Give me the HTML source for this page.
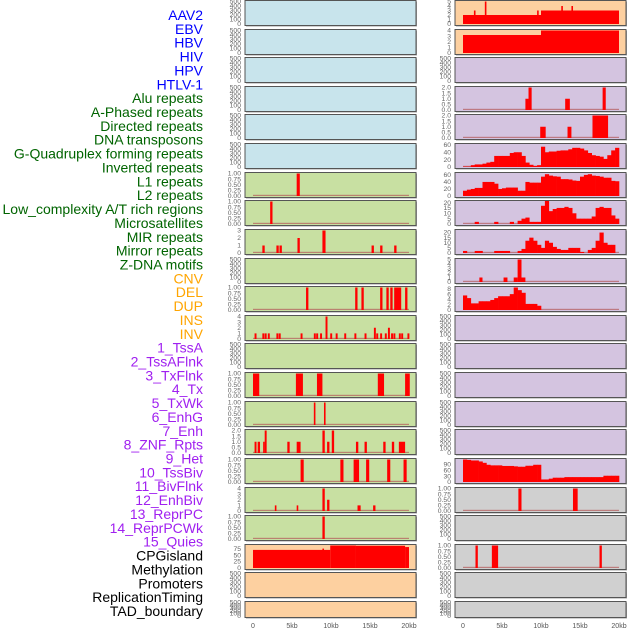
<!DOCTYPE html>
<html><head><meta charset="utf-8">
<style>
html,body{margin:0;padding:0;background:#fff;}
svg{display:block;}
</style></head>
<body>
<svg id="chart" width="630" height="630" viewBox="0 0 630 630" xmlns="http://www.w3.org/2000/svg"></svg>
<script>
// ---------- data ----------
const LABELS = ["AAV2","EBV","HBV","HIV","HPV","HTLV-1","Alu repeats","A-Phased repeats","Directed repeats","DNA transposons","G-Quadruplex forming repeats","Inverted repeats","L1 repeats","L2 repeats","Low_complexity A/T rich regions","Microsatellites","MIR repeats","Mirror repeats","Z-DNA motifs","CNV","DEL","DUP","INS","INV","1_TssA","2_TssAFlnk","3_TxFlnk","4_Tx","5_TxWk","6_EnhG","7_Enh","8_ZNF_Rpts","9_Het","10_TssBiv","11_BivFlnk","12_EnhBiv","13_ReprPC","14_ReprPCWk","15_Quies","CPGisland","Methylation","Promoters","ReplicationTiming","TAD_boundary"];
const LABEL_GROUPS = ["virus","virus","virus","virus","virus","virus","rep","rep","rep","rep","rep","rep","rep","rep","rep","rep","rep","rep","rep","sv","sv","sv","sv","sv","chrom","chrom","chrom","chrom","chrom","chrom","chrom","chrom","chrom","chrom","chrom","chrom","chrom","chrom","chrom","other","other","other","other","other"];
const X_TICKS = [0,5,10,15,20];
const X_TICK_LABELS = ["0","5kb","10kb","15kb","20kb"];

const T500 = [0,100,200,300,400,500];
const T1 = [0,0.25,0.5,0.75,1];
const T3 = [0,1,2,3];
const T4 = [0,1,2,3,4];
const T5 = [0,1,2,3,4,5];
const T2 = [0,0.5,1,1.5,2];
const T75 = [0,25,50,75];
const T60 = [0,20,40,60];
const T20 = [0,5,10,15,20];
const T8 = [0,2,4,6,8];
const T90 = [0,30,60,90];

// bars: [startKb, endKb, value]
const L06_bars = [[5.6,6.0,1]];
const L07_bars = [[2.2,2.5,1]];
const L08_bars = [[1.2,1.5,1],[3.0,3.3,1],[3.4,3.7,1],[5.7,6.0,2],[8.9,9.3,3],[15.2,15.5,1],[16.3,16.6,1],[18.1,18.4,1]];
const L10_bars = [[6.8,7.1,1],[13.1,13.4,1],[13.9,14.2,1],[16.3,16.6,1],[17.1,17.4,1],[17.6,17.9,1],[18.1,19.0,1],[19.5,19.8,1]];
const L11_bars = [[0.2,0.45,1],[1.2,1.45,1],[1.5,1.75,1],[1.9,2.15,1],[3.0,3.25,1],[3.3,3.55,1],[6.1,6.35,1],[7.8,8.05,1],[8.1,8.35,1],[8.6,8.85,1],[9.3,9.55,4],[9.9,10.15,1],[10.6,10.85,1],[11.7,11.95,1],[13.0,13.25,1],[14.3,14.55,1],[15.5,15.75,2],[15.8,16.05,1],[16.3,16.55,1],[16.9,17.15,1],[17.3,17.55,2],[17.7,17.95,1],[18.0,18.25,1],[18.7,18.95,1],[19.0,19.25,1],[19.8,20.05,1]];
const L13_bars = [[0,0.8,1],[5.5,6.4,1],[8.2,8.9,1],[16.0,16.8,1],[19.5,20.1,1]];
const L14_bars = [[7.8,8.0,1],[9.1,9.3,1]];
const L15_bars = [[0.2,0.45,1],[0.6,0.9,1],[1.3,1.5,1],[1.5,1.75,2],[4.4,4.7,1],[5.6,6.1,1],[8.9,9.2,2],[9.5,9.8,1],[10.1,10.4,2],[13.2,13.5,1],[14.3,14.6,1],[16.7,17.0,1],[17.8,18.1,1],[18.7,19.5,1]];
const L16_bars = [[6.1,6.5,1],[11.2,11.6,1],[12.9,13.6,1],[14.5,14.9,1],[17.2,17.6,1],[19.3,19.7,1]];
const L17_bars = [[2.8,3.0,1],[5.6,5.8,1],[8.9,9.2,4],[9.5,9.8,2],[13.4,13.8,1],[15.4,15.7,1]];
const L18_bars = [[8.9,9.2,1]];
const L19_bars = [[0,9.9,70],[9.9,13.2,87],[13.2,19.5,86],[19.5,20,81],[8.9,9.1,75]];

const R00_bars = [[0,10,2],[10,20,3],[1.4,1.6,3],[2.8,3.0,5],[9.5,9.7,3],[12.6,12.8,4],[13.9,14.1,4]];
const R01_bars = [[0,10,3.2],[10,20,4]];
const R03_bars = [[8.0,8.4,1],[8.4,8.8,2],[13.1,13.7,1],[17.9,18.3,2]];
const R04_bars = [[9.9,10.6,1],[13.4,13.9,1],[16.6,18.6,2]];
const R09_bars = [[2.1,2.5,1],[5.2,5.7,1],[6.5,7.0,1],[7.0,7.5,5],[7.5,8.0,1]];
const R17_bars = [[7.1,7.5,1],[14.1,14.7,1]];
const R19_bars = [[1.6,1.9,1],[3.7,4.5,1],[17.5,17.8,1]];

// binned series (0.5kb bins, 0..20kb)
const R05_bins = [1,1,5,7,7,9,12,14,30,30,30,30,38,40,40,30,12,6,3,5,55,40,42,42,44,45,45,48,52,52,50,45,38,32,30,28,22,32,45,52];
const R06_bins = [15,18,20,23,23,40,40,40,35,20,22,24,24,24,15,15,40,38,38,38,55,62,58,56,55,48,48,47,44,43,55,60,62,58,57,55,52,52,43,42];
const R07_bins = [0,0,0,2,0,0,0,0,2,0,0,0,2,0,3,5,6,2,2,2,17,22,12,14,15,15,16,15,10,5,5,5,5,7,15,16,15,15,8,5];
const R08_bins = [2,0,0,2,2,0,0,0,2,2,2,2,0,0,2,4,12,15,12,8,5,12,10,6,4,3,3,5,5,5,1,0,3,5,12,20,10,8,8,0];
const R10_bins = [5.5,4.5,2.5,2.5,3.3,3.3,3.3,3.8,4.5,5.2,5.2,5.2,6,8.5,7.5,6.5,2.3,2.3,2.3,1.6,0,0,0,0,0,0,0,0,0,0,0,0,0,0,0,0,0,0,0,0];
const R16_bins = [115,113,110,110,105,98,88,85,85,85,82,82,82,80,78,78,83,83,88,88,13,13,17,22,22,22,25,25,25,25,25,25,25,25,25,25,32,32,32,32];

const BLUE="#c8e4ec", GREEN="#c8e0a2", ORANGE="#fdd0a0", PURPLE="#d4c4e0", GRAY="#d0d0d0";
const LEFT = [
 {name:"aav2",bg:BLUE,ticks:T500,ymax:500},{name:"ebv",bg:BLUE,ticks:T500,ymax:500},{name:"hbv",bg:BLUE,ticks:T500,ymax:500},
 {name:"hiv",bg:BLUE,ticks:T500,ymax:500},{name:"hpv",bg:BLUE,ticks:T500,ymax:500},{name:"htlv1",bg:BLUE,ticks:T500,ymax:500},
 {name:"alu",bg:GREEN,ticks:T1,ymax:1,bars:L06_bars,dec:2},{name:"a-phased",bg:GREEN,ticks:T1,ymax:1,bars:L07_bars,dec:2},
 {name:"directed",bg:GREEN,ticks:T3,ymax:3,bars:L08_bars},{name:"dna-transposons",bg:GREEN,ticks:T500,ymax:500},
 {name:"g-quadruplex",bg:GREEN,ticks:T1,ymax:1,bars:L10_bars,dec:2},{name:"inverted",bg:GREEN,ticks:T4,ymax:4,bars:L11_bars},
 {name:"l1",bg:GREEN,ticks:T500,ymax:500},{name:"l2",bg:GREEN,ticks:T1,ymax:1,bars:L13_bars,dec:2},
 {name:"low-complexity",bg:GREEN,ticks:T1,ymax:1,bars:L14_bars,dec:2},{name:"microsatellites",bg:GREEN,ticks:T2,ymax:2,bars:L15_bars,dec:1},
 {name:"mir",bg:GREEN,ticks:T1,ymax:1,bars:L16_bars,dec:2},{name:"mirror",bg:GREEN,ticks:T4,ymax:4,bars:L17_bars},
 {name:"z-dna",bg:GREEN,ticks:T1,ymax:1,bars:L18_bars,dec:2},{name:"cpg",bg:ORANGE,ticks:T75,ymax:87,bars:L19_bars,nobase:true},
 {name:"methylation",bg:ORANGE,ticks:T500,ymax:500},{name:"promoters",bg:ORANGE,ticks:T500,ymax:500}
];
const RIGHT = [
 {name:"cnv",bg:ORANGE,ticks:T5,ymax:5,bars:R00_bars,nobase:true},{name:"del",bg:ORANGE,ticks:T4,ymax:4,bars:R01_bars,nobase:true},
 {name:"dup",bg:PURPLE,ticks:T500,ymax:500},{name:"ins",bg:PURPLE,ticks:T2,ymax:2,bars:R03_bars,dec:1},
 {name:"inv",bg:PURPLE,ticks:T2,ymax:2,bars:R04_bars,dec:1},{name:"tssa",bg:PURPLE,ticks:T60,ymax:61,bins:R05_bins},
 {name:"tssaflnk",bg:PURPLE,ticks:T60,ymax:64,bins:R06_bins},{name:"txflnk",bg:PURPLE,ticks:T20,ymax:21,bins:R07_bins},
 {name:"tx",bg:PURPLE,ticks:T20,ymax:22,bins:R08_bins},{name:"txwk",bg:PURPLE,ticks:T5,ymax:5,bars:R09_bars},
 {name:"enhg",bg:PURPLE,ticks:T8,ymax:8.5,bins:R10_bins},{name:"enh",bg:PURPLE,ticks:T500,ymax:500},
 {name:"znf",bg:PURPLE,ticks:T500,ymax:500},{name:"het",bg:PURPLE,ticks:T500,ymax:500},
 {name:"tssbiv",bg:PURPLE,ticks:T500,ymax:500},{name:"bivflnk",bg:PURPLE,ticks:T500,ymax:500},
 {name:"enhbiv",bg:PURPLE,ticks:T90,ymax:115,bins:R16_bins},{name:"reprpc",bg:GRAY,ticks:T1,ymax:1,bars:R17_bars,dec:2},
 {name:"reprpcwk",bg:GRAY,ticks:T500,ymax:500},{name:"quies",bg:GRAY,ticks:T1,ymax:1,bars:R19_bars,dec:2},
 {name:"replication-timing",bg:GRAY,ticks:T500,ymax:500},{name:"tad-boundary",bg:GRAY,ticks:T500,ymax:500}
];

// ---------- drawing ----------
const NS="http://www.w3.org/2000/svg";
const svg=document.getElementById("chart");
function mk(tag,attrs,parent){const e=document.createElementNS(NS,tag);for(const k in attrs)e.setAttribute(k,attrs[k]);(parent||svg).appendChild(e);return e;}

const COLORS={virus:"#0000ff",rep:"#006400",sv:"#ffa500",chrom:"#a020f0",other:"#000000"};
LABELS.forEach((t,i)=>{
  const e=mk("text",{x:203,y:(15+13.86*i+5).toFixed(1),"text-anchor":"end","font-family":"Liberation Sans, sans-serif","font-size":"14",fill:COLORS[LABEL_GROUPS[i]]});
  
  
  e.textContent=t;
});

function drawPanel(p,i,x0){
  const t=Math.round(i*28.62)+0.5;
  const h=(i===21)?16:25;
  const w=171;
  const g=mk("g",{});
  
  
  mk("rect",{x:x0+1,y:t+1,width:w,height:h,fill:"#a0a0a0"},g);
  const bg=mk("rect",{x:x0,y:t,width:w,height:h,fill:p.bg,stroke:"#555","stroke-width":1},g);
  
  
  const xs=kb=>x0+8+kb*7.8;
  const y0=t+h-1.5, span=h-2.5;
  const ys=v=>Math.max(t+0.5,y0-v/p.ymax*span);
  p.ticks.forEach(v=>{
    const lab=p.dec?v.toFixed(p.dec):String(v);
    const e=mk("text",{x:x0-4,y:(ys(v)+2.2).toFixed(1),"text-anchor":"end","font-family":"Liberation Sans, sans-serif","font-size":"6.8",fill:"#666"},g);
    
    
    e.textContent=lab;
  });
  const hasData=p.bars||p.bins;
  if(hasData&&!p.nobase){
    const b=mk("rect",{x:xs(0),y:y0-1.2,width:xs(20)-xs(0),height:1.2,fill:"#b45a5a",opacity:0.7},g);
    
    
  }
  if(p.bars){
    p.bars.forEach(d=>{
      const x=xs(d[0]), x2=xs(d[1]), yt=ys(d[2]);
      const r=mk("rect",{x:x.toFixed(2),y:yt.toFixed(2),width:Math.max(x2-x,1.6).toFixed(2),height:(y0-yt).toFixed(2),fill:"#ff0000"},g);
      
      
    });
  }
  if(p.bins){
    p.bins.forEach((v,k)=>{
      if(v<=0)return;
      const x=xs(k*0.5), x2=xs(k*0.5+0.5), yt=ys(v);
      const r=mk("rect",{x:x.toFixed(2),y:yt.toFixed(2),width:(x2-x+0.3).toFixed(2),height:(y0-yt).toFixed(2),fill:"#ff0000"},g);
      
      
    });
  }
}
LEFT.forEach((p,i)=>drawPanel(p,i,245));
RIGHT.forEach((p,i)=>drawPanel(p,i,455));

[245,455].forEach(x0=>{
  X_TICKS.forEach((v,k)=>{
    const e=mk("text",{x:x0+8+v*7.8,y:628,"text-anchor":"middle","font-family":"Liberation Sans, sans-serif","font-size":"7",fill:"#555"});
    
    
    e.textContent=X_TICK_LABELS[k];
  });
});
</script>
</body></html>
